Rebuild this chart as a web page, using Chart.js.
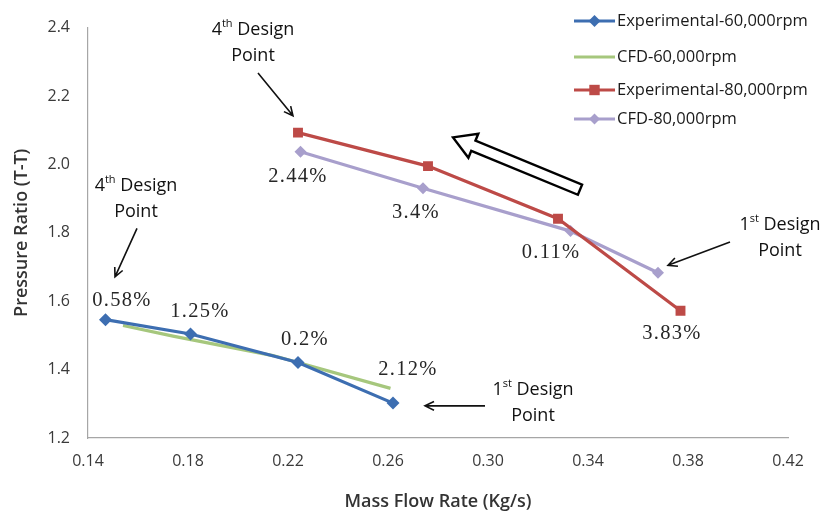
<!DOCTYPE html>
<html>
<head>
<meta charset="utf-8">
<script src="https://cdn.jsdelivr.net/npm/chart.js@4"></script>
<style>
  html, body { margin: 0; padding: 0; background: #fff; }
  #wrap { width: 822px; height: 516px; }
</style>
</head>
<body>
<div id="wrap"><canvas id="flowChart" width="822" height="516"></canvas></div>
<script>
// values
const xTicks = [0.14, 0.18, 0.22, 0.26, 0.30, 0.34, 0.38, 0.42];
const yTicks = [1.2, 1.4, 1.6, 1.8, 2.0, 2.2, 2.4];

const seriesNames = ['Experimental-60,000rpm', 'CFD-60,000rpm', 'Experimental-80,000rpm', 'CFD-80,000rpm'];

const exp60X = [0.147, 0.181, 0.224, 0.262];
const exp60Y = [1.546, 1.504, 1.421, 1.302];
const cfd60X = [0.154, 0.174, 0.214, 0.261];
const cfd60Y = [1.529, 1.498, 1.441, 1.345];
const exp80X = [0.224, 0.276, 0.328, 0.377];
const exp80Y = [2.093, 1.995, 1.841, 1.572];
const cfd80X = [0.225, 0.274, 0.333, 0.368];
const cfd80Y = [2.037, 1.930, 1.805, 1.683];

// error labels: text and where it sits (data units)
const pctText = ['0.58%', '1.25%', '0.2%', '2.12%', '2.44%', '3.4%', '0.11%', '3.83%'];
const pctX = [0.1536, 0.1848, 0.2268, 0.268, 0.224, 0.2712, 0.3252, 0.3736];
const pctY = [1.603, 1.569, 1.487, 1.401, 1.963, 1.858, 1.742, 1.506];

// "design point" callouts: number, ordinal suffix, text centre, arrow start/end
const callNum = ['4', '4', '1', '1'];
const callSup = ['th', 'th', 'st', 'st'];
const callX = [0.206, 0.1592, 0.4168, 0.318];
const callY = [2.392, 1.938, 1.824, 1.342];
const arrowFrom = [[0.208, 2.267], [0.1596, 1.813], [0.3968, 1.773], [0.2988, 1.294]];
const arrowTo = [[0.222, 2.142], [0.1508, 1.671], [0.372, 1.705], [0.2748, 1.294]];

// hollow arrow showing direction (tip, tail) in data units
const bigArrowTip = [0.286, 2.079];
const bigArrowTail = [0.3368, 1.926];

const toPoints = (xs, ys) => xs.map((x, i) => ({ x: x, y: ys[i] }));

const colors = ['#3d6eb1', '#a6c77d', '#bd4a47', '#a89fcc'];
const pStyles = ['rectRot', false, 'rect', 'rectRot'];
const pRadius = [6.5, 0, 7, 6];

function drawMarker(ctx, style, x, y, r, color) {
    if (!style) return;
    ctx.save();
    ctx.fillStyle = color;
    ctx.beginPath();
    if (style === 'rect') {
        ctx.rect(x - r * 0.8, y - r * 0.8, r * 1.6, r * 1.6);
    } else {
        ctx.moveTo(x, y - r);
        ctx.lineTo(x + r, y);
        ctx.lineTo(x, y + r);
        ctx.lineTo(x - r, y);
        ctx.closePath();
    }
    ctx.fill();
    ctx.restore();
}

function drawSupText(ctx, num, sup, rest, cx, cy) {
    const big = '18px "Open Sans"';
    const small = '11px "Open Sans"';
    ctx.font = big;
    const w1 = ctx.measureText(num).width;
    const w3 = ctx.measureText(rest).width;
    ctx.font = small;
    const w2 = ctx.measureText(sup).width;
    let x = cx - (w1 + w2 + w3) / 2;
    ctx.textAlign = 'left';
    ctx.textBaseline = 'middle';
    ctx.font = big;
    ctx.fillText(num, x, cy);
    x += w1;
    ctx.font = small;
    ctx.fillText(sup, x, cy - 6);
    x += w2;
    ctx.font = big;
    ctx.fillText(rest, x, cy);
}

function arrowLine(ctx, x1, y1, x2, y2) {
    const a = Math.atan2(y2 - y1, x2 - x1);
    const h = 10;
    ctx.beginPath();
    ctx.moveTo(x1, y1);
    ctx.lineTo(x2, y2);
    ctx.moveTo(x2 - h * Math.cos(a - 0.45), y2 - h * Math.sin(a - 0.45));
    ctx.lineTo(x2, y2);
    ctx.lineTo(x2 - h * Math.cos(a + 0.45), y2 - h * Math.sin(a + 0.45));
    ctx.stroke();
}

const notesPlugin = {
    id: 'notes',
    afterDraw(chart) {
        const ctx = chart.ctx;
        const xs = chart.scales.x;
        const ys = chart.scales.y;
        ctx.save();

        // percentage labels
        ctx.fillStyle = '#262626';
        ctx.font = '20.5px "Liberation Serif"';
        ctx.letterSpacing = '1.3px';
        ctx.textAlign = 'center';
        ctx.textBaseline = 'middle';
        pctText.forEach((t, i) => {
            ctx.fillText(t, xs.getPixelForValue(pctX[i]), ys.getPixelForValue(pctY[i]));
        });
        ctx.letterSpacing = '0px';

        // design point callouts
        ctx.fillStyle = '#111';
        ctx.strokeStyle = '#111';
        ctx.lineWidth = 1.6;
        callNum.forEach((n, i) => {
            const cx = xs.getPixelForValue(callX[i]);
            const cy = ys.getPixelForValue(callY[i]);
            drawSupText(ctx, n, callSup[i], ' Design', cx, cy);
            ctx.font = '18px "Open Sans"';
            ctx.textAlign = 'center';
            ctx.fillText('Point', cx, cy + 26);
            arrowLine(ctx,
                xs.getPixelForValue(arrowFrom[i][0]), ys.getPixelForValue(arrowFrom[i][1]),
                xs.getPixelForValue(arrowTo[i][0]), ys.getPixelForValue(arrowTo[i][1]));
        });

        // hollow block arrow
        const tx = xs.getPixelForValue(bigArrowTip[0]);
        const ty = ys.getPixelForValue(bigArrowTip[1]);
        const ex = xs.getPixelForValue(bigArrowTail[0]);
        const ey = ys.getPixelForValue(bigArrowTail[1]);
        const len = Math.hypot(ex - tx, ey - ty);
        const ang = Math.atan2(ey - ty, ex - tx);
        ctx.translate(tx, ty);
        ctx.rotate(ang);
        ctx.beginPath();
        ctx.moveTo(0, 0);
        ctx.lineTo(22, -13);
        ctx.lineTo(22, -5.5);
        ctx.lineTo(len, -5.5);
        ctx.lineTo(len, 5.5);
        ctx.lineTo(22, 5.5);
        ctx.lineTo(22, 13);
        ctx.closePath();
        ctx.fillStyle = '#fff';
        ctx.fill();
        ctx.lineWidth = 2.4;
        ctx.strokeStyle = '#000';
        ctx.stroke();
        ctx.setTransform(1, 0, 0, 1, 0, 0);

        // legend
        const rowsY = [21, 57, 90, 119];
        ctx.font = '16.5px "Open Sans"';
        ctx.textAlign = 'left';
        ctx.textBaseline = 'middle';
        seriesNames.forEach((name, i) => {
            const y = rowsY[i];
            ctx.strokeStyle = colors[i];
            ctx.lineWidth = 3;
            ctx.beginPath();
            ctx.moveTo(574, y);
            ctx.lineTo(615, y);
            ctx.stroke();
            drawMarker(ctx, pStyles[i], 594.5, y, pRadius[i] - 0.5, colors[i]);
            ctx.fillStyle = '#1a1a1a';
            ctx.fillText(name, 617, y);
        });
        ctx.restore();
    }
};

const seriesX = [exp60X, cfd60X, exp80X, cfd80X];
const seriesY = [exp60Y, cfd60Y, exp80Y, cfd80Y];

new Chart(document.getElementById('flowChart'), {
    type: 'scatter',
    data: {
        datasets: seriesNames.map((name, i) => ({
            label: name,
            data: toPoints(seriesX[i], seriesY[i]),
            showLine: true,
            borderColor: colors[i],
            backgroundColor: colors[i],
            borderWidth: 3.2,
            tension: 0,
            pointStyle: pStyles[i] || 'circle',
            pointRadius: pRadius[i],
            pointBorderWidth: 0
        }))
    },
    options: {
        responsive: false,
        animation: false,
        layout: { padding: { left: 0, top: 15, right: 34, bottom: 0 } },
        plugins: {
            legend: { display: false },
            tooltip: { enabled: false }
        },
        scales: {
            x: {
                type: 'linear',
                min: xTicks[0],
                max: xTicks[xTicks.length - 1],
                afterBuildTicks: s => { s.ticks = xTicks.map(v => ({ value: v })); },
                afterFit: s => { s.height = 78; },
                grid: { display: false, drawTicks: false },
                border: { display: true, color: '#a6a6a6', width: 1.2 },
                ticks: {
                    padding: 14,
                    color: '#3a3a3a',
                    font: { family: 'Open Sans', size: 16 },
                    callback: v => v.toFixed(2)
                },
                title: {
                    display: true,
                    text: 'Mass Flow Rate (Kg/s)',
                    color: '#333',
                    font: { family: 'Open Sans', size: 18, weight: '600' },
                    padding: { top: 0, bottom: 3 }
                }
            },
            y: {
                type: 'linear',
                min: yTicks[0],
                max: yTicks[yTicks.length - 1],
                afterBuildTicks: s => { s.ticks = yTicks.map(v => ({ value: v })); },
                afterFit: s => { s.width = 88; },
                grid: { display: false, drawTicks: false },
                border: { display: true, color: '#a6a6a6', width: 1.2 },
                ticks: {
                    padding: 18,
                    color: '#3a3a3a',
                    font: { family: 'Open Sans', size: 16 },
                    callback: v => v.toFixed(1)
                },
                title: {
                    display: true,
                    text: 'Pressure Ratio (T-T)',
                    color: '#333',
                    font: { family: 'Open Sans', size: 18, weight: '600' },
                    padding: { top: 11, bottom: 0 }
                }
            }
        }
    },
    plugins: [notesPlugin]
});
</script>
</body>
</html>
